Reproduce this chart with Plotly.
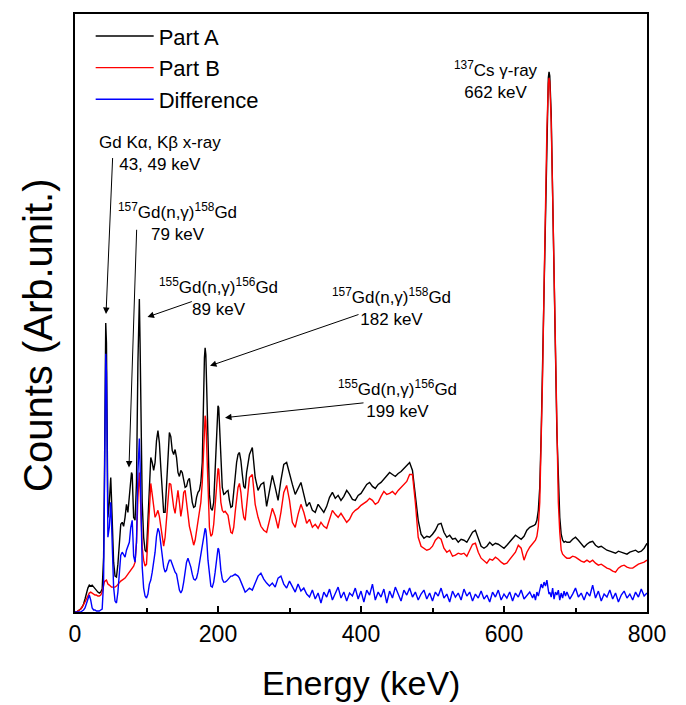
import plotly.graph_objects as go

# ---------------- data (energy in keV, counts in arbitrary units) ----------------
energy_low = [0, 2, 4, 6, 8, 10, 12, 14, 16, 18, 20, 22, 24, 26, 28, 30, 32, 34, 36, 38,
              40, 41, 42, 43, 44, 45, 46, 48, 49, 50, 51, 52, 54, 56, 58,
              60, 62, 64, 66, 68, 70, 72, 74, 76, 78, 79, 80, 81, 82, 84, 86, 88, 89, 90, 91, 92, 94, 96, 98,
              100, 102, 104, 106, 108, 110, 112, 114, 116, 118, 120, 122, 124, 126, 128, 130, 132, 134, 136, 138,
              140, 142, 144, 146, 148, 150, 152, 154, 156, 158, 160, 162, 164, 166, 168, 170, 172, 174, 176, 178,
              180, 181, 182, 183, 184, 186, 188, 190, 192, 194, 196, 198, 199, 200, 201, 202, 204, 206, 208, 210,
              212, 214, 216, 218, 220, 222, 224, 226, 228, 230, 232, 234, 236, 238, 240]
energy_mid = list(range(244, 641, 4))
energy_cs = [642, 644, 646, 648, 650, 652, 654, 656, 658, 660, 662, 663, 664, 666, 668, 670, 672, 674,
             676, 678, 680, 682, 684, 686]
energy_high = list(range(688, 801, 4))

part_a_low = [0, 0, 1, 2, 3, 5, 8, 13, 19, 24, 27, 26, 27, 25, 24, 22, 20, 19, 20, 23,
              55, 120, 230, 290, 270, 170, 95, 110, 132, 135, 115, 85, 50, 36, 35,
              48, 70, 88, 90, 86, 95, 108, 100, 115, 132, 140, 138, 115, 95, 92, 130, 250, 305, 314, 270, 190, 110, 75, 62,
              60, 90, 135, 155, 150, 142, 150, 172, 182, 170, 145, 118, 100, 100, 125, 160, 180, 176, 162, 158,
              163, 155, 140, 136, 142, 140, 132, 125, 126, 132, 134, 120, 110, 105, 106, 115, 120, 122, 130, 150,
              230, 255, 265, 258, 230, 160, 118, 104, 102, 110, 140, 180, 198, 207, 205, 190, 150, 125, 118, 119,
              121, 122, 112, 105, 106, 118, 135, 150, 158, 160, 152, 138, 126, 124, 140]
part_b_low = [0, 0, 1, 2, 3, 5, 7, 10, 13, 17, 19, 20, 19, 18, 17, 17, 16, 16, 17, 20,
              28, 30, 31, 32, 32, 30, 28, 27, 26, 25, 25, 25, 25, 25, 26,
              28, 30, 31, 32, 33, 34, 36, 38, 40, 42, 43, 44, 45, 46, 50, 70, 115, 135, 140, 125, 95, 65, 52, 46,
              48, 75, 110, 129, 118, 105, 95, 98, 102, 96, 85, 72, 66, 75, 95, 118, 129, 128, 116, 105,
              99, 110, 122, 110, 96, 105, 120, 122, 110, 96, 86, 80, 72, 67, 72, 82, 92, 100, 110, 130,
              175, 190, 197, 192, 170, 115, 85, 76, 78, 88, 108, 130, 140, 144, 143, 133, 110, 102, 100, 101,
              99, 97, 88, 80, 79, 85, 100, 115, 125, 129, 120, 105, 95, 92, 105]
diff_low = [0, 0, 0, 0, 0, 1, 2, 4, 9, 14, 17, 12, 4, 2, 2, 1, 1, 1, 2, 3,
            30, 90, 200, 259, 240, 140, 75, 85, 108, 110, 92, 62, 25, 11, 9,
            20, 40, 57, 60, 58, 55, 62, 66, 70, 85, 92, 92, 75, 56, 50, 70, 140, 170, 174, 150, 100, 45, 24, 16,
            14, 18, 28, 32, 40, 48, 60, 76, 84, 80, 68, 56, 45, 40, 42, 48, 52, 52, 48, 42,
            40, 38, 30, 22, 19, 22, 30, 42, 50, 54, 50, 45, 38, 33, 32, 34, 40, 48, 58, 65,
            75, 80, 84, 82, 75, 52, 35, 26, 25, 30, 40, 55, 60, 64, 63, 58, 42, 33, 30, 30,
            31, 33, 35, 36, 36, 37, 38, 37, 36, 34, 30, 27, 22, 20, 21]

part_a_mid = [158, 165, 135, 122, 128, 130, 106, 120, 137, 125,
              112, 132, 148, 150, 138, 128, 118, 124, 130, 118,
              106, 110, 102, 100, 108, 104, 100, 106, 115, 120,
              114, 117, 112, 116, 122, 118, 113, 112, 117, 119,
              124, 128, 130, 126, 124, 128, 130, 133, 136, 140,
              138, 136, 139, 141, 144, 147, 150, 142, 118, 92,
              78, 74, 76, 75, 78, 82, 88, 89, 80, 75,
              77, 73, 74, 70, 73, 72, 70, 75, 80, 82,
              74, 66, 64, 66, 70, 67, 69, 68, 66, 64,
              67, 70, 74, 77, 75, 73, 76, 82, 85, 86]
part_b_mid = [135, 138, 108, 95, 86, 82, 80, 92, 104, 96,
              84, 100, 120, 127, 112, 90, 85, 98, 108, 100,
              89, 93, 85, 88, 84, 90, 86, 84, 94, 102,
              98, 95, 99, 94, 90, 93, 99, 102, 104, 107,
              109, 111, 114, 112, 108, 110, 116, 121, 118, 119,
              121, 118, 122, 125, 128, 131, 138, 138, 110, 75,
              66, 64, 62, 63, 66, 72, 75, 73, 64, 60,
              62, 56, 57, 59, 58, 59, 56, 62, 68, 69,
              60, 54, 51, 49, 53, 52, 55, 53, 50, 48,
              49, 53, 57, 60, 67, 64, 52, 60, 65, 68]
diff_mid = [24, 22, 30, 36, 39, 33, 29, 26, 29, 25,
            34, 36, 28, 24, 31, 25, 20, 28, 21, 24,
            18, 15, 22, 13, 19, 9, 20, 15, 23, 12,
            18, 25, 14, 20, 11, 19, 16, 24, 13, 21,
            10, 22, 17, 28, 12, 20, 15, 23, 9, 21,
            14, 25, 18, 11, 22, 17, 24, 15, 20, 12,
            18, 22, 13, 19, 11, 20, 16, 24, 14, 18,
            10, 21, 15, 19, 12, 23, 16, 20, 11, 18,
            14, 21, 13, 17, 10, 20, 15, 22, 12, 18,
            14, 20, 11, 19, 15, 22, 13, 17, 20, 14]

part_a_cs = [87, 88, 92, 102, 125, 178, 250, 335, 420, 490, 536, 542, 538, 500, 430, 345, 260, 180,
             125, 95, 78, 72, 70, 71]
part_b_cs = [70, 72, 76, 86, 110, 165, 238, 325, 412, 484, 530, 536, 532, 492, 420, 335, 248, 168,
             110, 80, 62, 58, 56, 55]
diff_cs = [18, 12, 20, 16, 22, 28, 24, 30, 26, 32, 22, 18, 20, 15, 24, 13, 20, 17,
           22, 12, 19, 14, 21, 16]

part_a_high = [70, 70, 73, 75, 72, 68, 65, 68, 70, 71, 67, 65, 66, 64, 62,
               61, 60, 59, 61, 60, 59, 58, 60, 61, 62, 60, 61, 64, 69]
part_b_high = [54, 54, 56, 55, 53, 51, 50, 52, 50, 52, 49, 47, 48, 46, 44,
               43, 41, 40, 44, 46, 47, 45, 44, 44, 46, 48, 49, 50, 52]
diff_high = [20, 13, 18, 24, 15, 19, 12, 20, 16, 27, 14, 21, 11, 18, 15,
             22, 13, 19, 10, 17, 21, 14, 18, 12, 20, 15, 23, 16, 19]

energy = energy_low + energy_mid + energy_cs + energy_high
part_a = part_a_low + part_a_mid + part_a_cs + part_a_high
part_b = part_b_low + part_b_mid + part_b_cs + part_b_high
difference = diff_low + diff_mid + diff_cs + diff_high

x_ticks = [0, 200, 400, 600, 800]

# peak labels: (text, x keV, y counts)
labels = [
    ("Gd K\u03b1, K\u03b2 x-ray<br>43, 49 keV", 119, 460),
    ("<sup>157</sup>Gd(n,\u03b3)<sup>158</sup>Gd<br>79 keV", 143, 391),
    ("<sup>155</sup>Gd(n,\u03b3)<sup>156</sup>Gd<br>89 keV", 201, 316),
    ("<sup>157</sup>Gd(n,\u03b3)<sup>158</sup>Gd<br>182 keV", 443, 306),
    ("<sup>155</sup>Gd(n,\u03b3)<sup>156</sup>Gd<br>199 keV", 451, 214),
    ("<sup>137</sup>Cs \u03b3-ray<br>662 keV", 589, 534),
]
# arrows: (tail keV, tail counts, tip keV, tip counts)
arrows = [
    (52.7, 457, 43.4, 299),
    (86.3, 385, 75.5, 145),
    (165.5, 312, 101.4, 296),
    (398.6, 299, 188.8, 247),
    (405.6, 210, 209.8, 195),
]

FONT = "Liberation Sans, Arial, sans-serif"

fig = go.Figure()
for name, vals, color in [("Part A", part_a, "#000000"),
                          ("Part B", part_b, "#ff0000"),
                          ("Difference", difference, "#0000ff")]:
    fig.add_trace(go.Scatter(x=energy, y=vals, mode="lines", name=name,
                             line=dict(color=color, width=1.4)))

annotations = []
for text, x, y in labels:
    annotations.append(dict(text=text, x=x, y=y, xref="x", yref="y", showarrow=False,
                            xanchor="center", yanchor="middle",
                            font=dict(family=FONT, size=17, color="black")))
for tx, ty, hx, hy in arrows:
    annotations.append(dict(text="", x=hx, y=hy, ax=tx, ay=ty, xref="x", yref="y",
                            axref="x", ayref="y", showarrow=True, arrowhead=2,
                            arrowsize=1.3, arrowwidth=1, arrowcolor="black", standoff=0))
annotations.append(dict(text="Energy (keV)", x=0.5, y=-0.118, xref="paper", yref="paper",
                        showarrow=False, xanchor="center", yanchor="middle",
                        font=dict(family=FONT, size=34, color="black")))
annotations.append(dict(text="Counts (Arb.unit.)", x=-0.066, y=0.462, xref="paper", yref="paper",
                        showarrow=False, xanchor="center", yanchor="middle", textangle=-90,
                        font=dict(family=FONT, size=40, color="black")))

fig.update_layout(
    width=686, height=705,
    margin=dict(l=75, r=39, t=12, b=93),
    paper_bgcolor="white", plot_bgcolor="white",
    font=dict(family=FONT, color="black"),
    showlegend=True,
    legend=dict(x=0.0274, y=0.998, xanchor="left", yanchor="top",
                font=dict(family=FONT, size=22, color="black"),
                bgcolor="rgba(0,0,0,0)", itemwidth=58, tracegroupgap=0),
    annotations=annotations,
    xaxis=dict(range=[0, 800], tickvals=x_ticks, ticks="inside", ticklen=6, tickwidth=1.5,
               tickcolor="black", showline=True, linewidth=2, linecolor="black", mirror=True,
               showgrid=False, zeroline=False,
               tickfont=dict(family=FONT, size=23, color="black"),
               minor=dict(dtick=100, tick0=0, ticks="inside", ticklen=4, tickwidth=1.5,
                          tickcolor="black", showgrid=False)),
    yaxis=dict(range=[0, 600], showticklabels=False, ticks="", showline=True, linewidth=2,
               linecolor="black", mirror=True, showgrid=False, zeroline=False),
)

fig.write_html("out.html")
